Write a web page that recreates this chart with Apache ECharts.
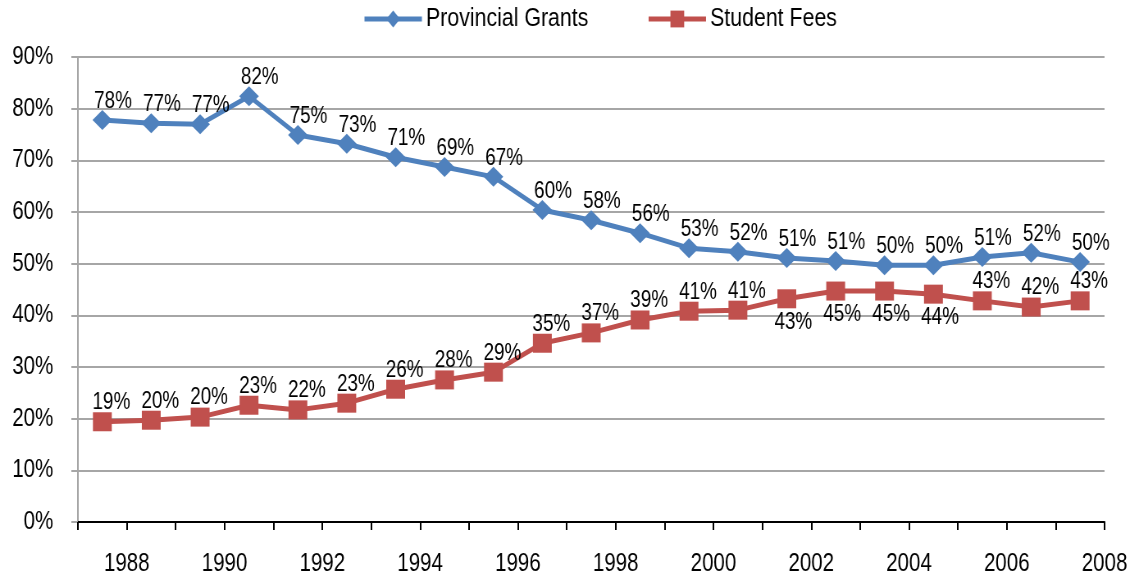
<!DOCTYPE html>
<html>
<head>
<meta charset="utf-8">
<script src="https://cdn.jsdelivr.net/npm/echarts@6/dist/echarts.min.js"></script>
<style>
html,body{margin:0;padding:0;background:#fff;overflow:hidden;width:1132px;height:573px;}
#wrap{width:1132px;height:573px;overflow:hidden;position:relative;}
#chart{width:1380px;height:573px;transform:scaleX(0.82);transform-origin:0 0;position:absolute;left:0;top:0;}
</style>
</head>
<body>
<div id="wrap"><div id="chart"></div></div>
<script>
// Periods (fiscal year midpoints, e.g. 1987.5 = 1987/88)
const periods = [1987.5,1988.5,1989.5,1990.5,1991.5,1992.5,1993.5,1994.5,1995.5,1996.5,1997.5,1998.5,1999.5,2000.5,2001.5,2002.5,2003.5,2004.5,2005.5,2006.5,2007.5];
const provincialGrants = [77.8,77.2,77.0,82.4,74.9,73.2,70.6,68.7,66.8,60.4,58.4,55.9,53.0,52.3,51.1,50.5,49.7,49.7,51.3,52.1,50.3];
const studentFees = [19.4,19.7,20.3,22.6,21.7,23.0,25.7,27.5,29.0,34.6,36.6,39.1,40.8,41.0,43.2,44.7,44.7,44.1,42.8,41.6,42.8];
const feesLabelBelow = [14,15,16,17];
const yTicks = [0,10,20,30,40,50,60,70,80,90];

const FONT = "'Liberation Sans',Arial,sans-serif";
const BLUE = '#4F81BD', RED = '#C0504D';

const pgData = periods.map((p,i)=>[p, provincialGrants[i]]);
const sfData = periods.map((p,i)=>{
  const below = feesLabelBelow.indexOf(i) >= 0;
  return below ? {value:[p, studentFees[i]], label:{position:'bottom', offset:[8,0], distance:3}} : [p, studentFees[i]];
});

const chart = echarts.init(document.getElementById('chart'), null, {renderer:'canvas'});
chart.setOption({
  animation:false,
  textStyle:{fontFamily:FONT},
  legend:{
    top:1, left:437, itemGap:71, itemWidth:70, itemHeight:21,
    lineStyle:{width:5},
    textStyle:{fontFamily:FONT, fontSize:26, color:'#000'},
    data:['Provincial Grants','Student Fees']
  },
  grid:{left:95, right:33, top:57, bottom:51, containLabel:false, outerBoundsMode:'none'},
  xAxis:{
    type:'value', min:1987, max:2008, interval:1,
    axisLine:{show:true, lineStyle:{color:'#000', width:2}},
    axisTick:{show:true, length:8, lineStyle:{color:'#000', width:2}},
    splitLine:{show:false},
    axisLabel:{fontFamily:FONT, fontSize:25, color:'#000', margin:30,
      formatter:v=> (v%2===0 ? String(v) : '')}
  },
  yAxis:{
    type:'value', min:0, max:90, interval:10,
    axisLine:{show:true, lineStyle:{color:'#A6A6A6', width:2}},
    axisTick:{show:true, length:8, lineStyle:{color:'#A6A6A6', width:2}},
    splitLine:{show:true, lineStyle:{color:'#A6A6A6', width:2}},
    axisLabel:{fontFamily:FONT, fontSize:25, color:'#000', margin:30, formatter:v=>v+'%'}
  },
  series:[
    {name:'Provincial Grants', type:'line', data:pgData, symbol:'diamond', symbolSize:[24,20],
      lineStyle:{color:BLUE, width:5}, itemStyle:{color:BLUE},
      label:{show:true, position:'top', distance:-3, offset:[13,0], fontFamily:FONT, fontSize:23, color:'#000',
        formatter:p=>Math.round(p.value[1])+'%'}},
    {name:'Student Fees', type:'line', data:sfData, symbol:'rect', symbolSize:[23,19],
      lineStyle:{color:RED, width:5}, itemStyle:{color:RED},
      label:{show:true, position:'top', distance:-2, offset:[11,0], fontFamily:FONT, fontSize:23, color:'#000',
        formatter:p=>Math.round(p.value[1])+'%'}}
  ]
});
</script>
</body>
</html>
